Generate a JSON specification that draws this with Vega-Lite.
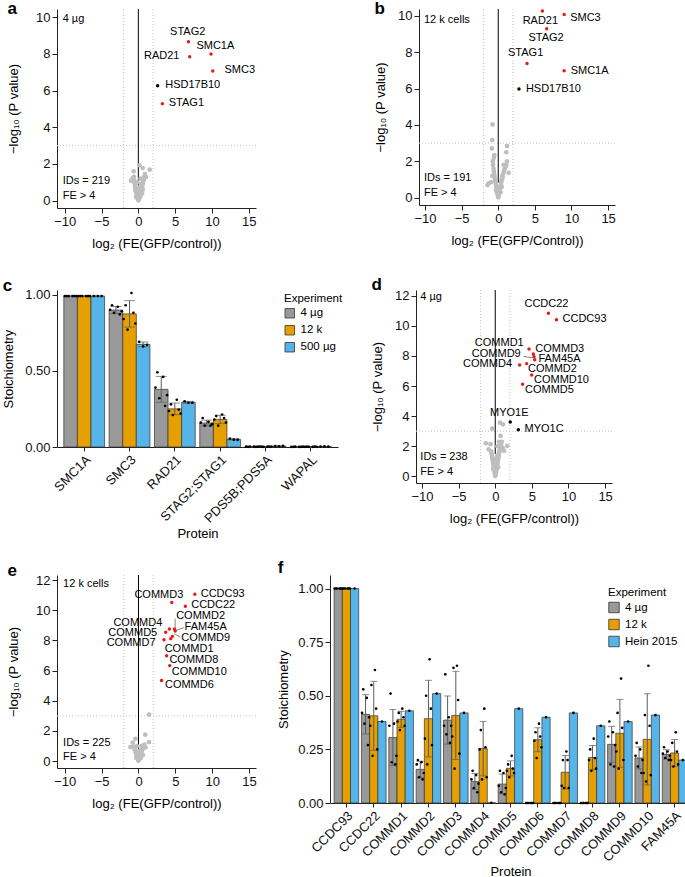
{
  "$schema": "https://vega.github.io/schema/vega-lite/v6.json",
  "background": "white",
  "padding": {"left": 2, "top": -1, "right": 0, "bottom": 0},
  "config": {
    "font": "Liberation Sans",
    "view": {"stroke": null},
    "axis": {"grid": false, "labelFontSize": 13, "titleFontSize": 13, "titleFontWeight": "normal", "labelColor": "#111111", "titleColor": "#000000", "domainColor": "#222222", "tickColor": "#222222", "tickSize": 5, "labelPadding": 2, "labelFlush": false, "labelOverlap": false},
    "title": {"fontSize": 17, "fontWeight": "bold", "anchor": "start", "frame": "bounds", "offset": 0, "color": "#000000"},
    "legend": {"titleFontSize": 11.5, "labelFontSize": 11.5, "titleFontWeight": "normal"}
  },
  "datasets": {
    "aGrey": [{"x":0,"y":0.02},{"x":0.05,"y":0.05},{"x":-0.05,"y":0.08},{"x":0.1,"y":0.12},{"x":-0.1,"y":0.15},{"x":0.15,"y":0.2},{"x":-0.15,"y":0.22},{"x":0.2,"y":0.28},{"x":-0.2,"y":0.3},{"x":0.25,"y":0.35},{"x":-0.25,"y":0.38},{"x":0.3,"y":0.45},{"x":-0.3,"y":0.48},{"x":0.35,"y":0.55},{"x":-0.35,"y":0.52},{"x":0.4,"y":0.62},{"x":-0.4,"y":0.6},{"x":0.45,"y":0.7},{"x":-0.42,"y":0.72},{"x":0.5,"y":0.78},{"x":-0.45,"y":0.82},{"x":0.55,"y":0.88},{"x":0.6,"y":0.95},{"x":-0.5,"y":0.95},{"x":0.65,"y":1.05},{"x":0.7,"y":1.12},{"x":-0.55,"y":1.1},{"x":0.75,"y":1.2},{"x":0.8,"y":1.3},{"x":0.5,"y":0.4},{"x":0.3,"y":0.25},{"x":-0.3,"y":0.2},{"x":0.1,"y":0.4},{"x":0.2,"y":0.6},{"x":0.4,"y":0.9},{"x":0.6,"y":0.6},{"x":-0.2,"y":0.55},{"x":0,"y":0.3},{"x":0.1,"y":0.7},{"x":-0.6,"y":1.3},{"x":-0.63,"y":1.6},{"x":-1.0,"y":1.09},{"x":0.14,"y":1.93},{"x":0.6,"y":1.78},{"x":1.04,"y":1.29},{"x":1.54,"y":1.69},{"x":0.9,"y":1.45},{"x":-0.1,"y":1.0},{"x":0.3,"y":1.2},{"x":-0.75,"y":1.25}],
    "aHits": [
      {"n":"STAG2","g":"t","x":6.8,"y":8.67},{"n":"SMC1A","g":"t","x":9.86,"y":8.0},{"n":"RAD21","g":"t","x":6.97,"y":7.85},
      {"n":"SMC3","g":"t","x":10.1,"y":7.07},{"n":"HSD17B10","g":"o","x":2.62,"y":6.27},{"n":"STAG1","g":"t","x":3.26,"y":5.29}
    ],
    "aLab": [
      {"n":"STAG2","x":6.7,"y":9.18},{"n":"SMC1A","x":10.45,"y":8.42},{"n":"RAD21","x":3.17,"y":7.87},
      {"n":"SMC3","x":13.76,"y":7.11},{"n":"HSD17B10","x":7.38,"y":6.31},{"n":"STAG1","x":6.52,"y":5.33}
    ],
    "aNote": [{"x":-10.27,"y":9.93,"t":"4 µg"},{"x":-10.27,"y":1.05,"t":"IDs = 219"},{"x":-10.27,"y":0.27,"t":"FE > 4"}],
    "bGrey": [{"x":0,"y":0.02},{"x":0.05,"y":0.1},{"x":-0.05,"y":0.12},{"x":0.1,"y":0.2},{"x":-0.1,"y":0.22},{"x":0.15,"y":0.3},{"x":-0.15,"y":0.28},{"x":0.2,"y":0.4},{"x":-0.2,"y":0.38},{"x":0.25,"y":0.5},{"x":-0.25,"y":0.55},{"x":0.3,"y":0.62},{"x":-0.3,"y":0.65},{"x":0.35,"y":0.7},{"x":-0.35,"y":0.75},{"x":0.4,"y":0.85},{"x":-0.4,"y":0.9},{"x":0.45,"y":0.95},{"x":-0.45,"y":1.0},{"x":0.5,"y":1.05},{"x":-0.5,"y":1.15},{"x":0.55,"y":1.2},{"x":-0.55,"y":1.3},{"x":0.6,"y":1.1},{"x":-0.6,"y":1.45},{"x":0.7,"y":1.35},{"x":-0.65,"y":1.6},{"x":0.8,"y":1.5},{"x":-0.7,"y":1.8},{"x":0.9,"y":1.6},{"x":-0.75,"y":2.0},{"x":1.0,"y":1.7},{"x":1.1,"y":1.8},{"x":1.19,"y":2.0},{"x":1.42,"y":1.37},{"x":0.73,"y":1.8},{"x":-0.55,"y":2.34},{"x":-0.6,"y":2.2},{"x":-0.87,"y":2.71},{"x":-0.82,"y":3.17},{"x":-0.78,"y":4.03},{"x":1.19,"y":2.84},{"x":1.1,"y":2.5},{"x":-1.32,"y":0.79},{"x":-1.46,"y":0.7},{"x":-1.0,"y":0.85},{"x":0.3,"y":0.3},{"x":-0.3,"y":0.4},{"x":0.1,"y":0.5},{"x":-0.8,"y":1.2},{"x":0.5,"y":0.6}],
    "bHits": [
      {"n":"RAD21","g":"t","x":6.03,"y":10.26},{"n":"SMC3","g":"t","x":9.0,"y":10.07},{"n":"STAG2","g":"t","x":6.62,"y":9.29},
      {"n":"STAG1","g":"t","x":3.93,"y":7.38},{"n":"SMC1A","g":"t","x":9.0,"y":6.98},{"n":"HSD17B10","g":"o","x":2.83,"y":5.97}
    ],
    "bLab": [
      {"n":"RAD21","x":5.75,"y":9.73},{"n":"SMC3","x":11.9,"y":9.89},{"n":"STAG2","x":6.53,"y":8.75},
      {"n":"STAG1","x":3.74,"y":7.93},{"n":"SMC1A","x":12.47,"y":6.98},{"n":"HSD17B10","x":7.53,"y":5.99}
    ],
    "bNote": [{"x":-10.14,"y":9.76,"t":"12 k cells"},{"x":-10.14,"y":1.06,"t":"IDs = 191"},{"x":-10.14,"y":0.27,"t":"FE > 4"}],
    "dGrey": [{"x":0,"y":0.02},{"x":0.05,"y":0.1},{"x":-0.05,"y":0.15},{"x":0.1,"y":0.25},{"x":-0.1,"y":0.3},{"x":0.15,"y":0.4},{"x":-0.15,"y":0.45},{"x":0.2,"y":0.55},{"x":-0.2,"y":0.6},{"x":0.25,"y":0.7},{"x":-0.25,"y":0.75},{"x":0.3,"y":0.85},{"x":-0.3,"y":0.9},{"x":0.35,"y":1.0},{"x":-0.35,"y":1.05},{"x":0.4,"y":1.15},{"x":-0.4,"y":1.2},{"x":0.45,"y":1.3},{"x":-0.45,"y":1.35},{"x":0.5,"y":1.45},{"x":-0.5,"y":1.5},{"x":0.55,"y":1.6},{"x":0.6,"y":1.7},{"x":-0.55,"y":1.65},{"x":0.65,"y":1.8},{"x":0.7,"y":1.9},{"x":0.75,"y":2.0},{"x":0.8,"y":2.1},{"x":0.2,"y":0.9},{"x":-0.2,"y":1.0},{"x":0.1,"y":1.2},{"x":0.3,"y":1.4},{"x":-0.1,"y":0.8},{"x":0.4,"y":0.6},{"x":-0.3,"y":0.5},{"x":1.0,"y":1.9},{"x":1.2,"y":1.7},{"x":1.64,"y":2.03},{"x":-0.64,"y":2.14},{"x":-1.28,"y":2.2},{"x":0.73,"y":2.69},{"x":-0.41,"y":3.17},{"x":1.05,"y":3.46},{"x":0.64,"y":3.57},{"x":0.9,"y":2.3},{"x":-0.9,"y":1.8},{"x":0.5,"y":2.3},{"x":0.3,"y":2.0}],
    "dHits": [
      {"n":"CCDC22","g":"t","x":7.26,"y":10.84},{"n":"CCDC93","g":"t","x":8.36,"y":10.4},{"n":"COMMD1","g":"t","x":4.61,"y":8.46},
      {"n":"COMMD3","g":"t","x":5.2,"y":8.13},{"n":"COMMD9","g":"t","x":5.3,"y":7.95},{"n":"FAM45A","g":"t","x":5.39,"y":7.75},
      {"n":"COMMD4","g":"t","x":3.33,"y":7.4},{"n":"COMMD2","g":"t","x":4.29,"y":7.49},{"n":"COMMD10","g":"t","x":4.98,"y":6.74},
      {"n":"COMMD5","g":"t","x":3.74,"y":6.12},{"n":"MYO1E","g":"o","x":2.05,"y":3.61},{"n":"MYO1C","g":"o","x":3.15,"y":3.1}
    ],
    "dLab": [
      {"n":"CCDC22","x":6.99,"y":11.45},{"n":"CCDC93","x":12.19,"y":10.44},{"n":"COMMD1","x":0.55,"y":8.85},
      {"n":"COMMD3","x":8.81,"y":8.48},{"n":"COMMD9","x":0.14,"y":8.13},{"n":"FAM45A","x":8.77,"y":7.8},
      {"n":"COMMD4","x":-1.05,"y":7.49},{"n":"COMMD2","x":7.81,"y":7.14},{"n":"COMMD10","x":9.04,"y":6.43},
      {"n":"COMMD5","x":7.4,"y":5.77},{"n":"MYO1E","x":1.92,"y":4.23},{"n":"MYO1C","x":6.67,"y":3.13}
    ],
    "dLead": [{"x":3.84,"y":7.97,"x2":5.07,"y2":7.88}],
    "dNote": [{"x":-10.23,"y":11.89,"t":"4 µg"},{"x":-10.23,"y":1.26,"t":"IDs = 238"},{"x":-10.23,"y":0.31,"t":"FE > 4"}],
    "eGrey": [{"x":0,"y":0.02},{"x":0.05,"y":0.08},{"x":-0.05,"y":0.1},{"x":0.1,"y":0.15},{"x":-0.1,"y":0.18},{"x":0.15,"y":0.22},{"x":-0.15,"y":0.25},{"x":0.2,"y":0.3},{"x":-0.2,"y":0.32},{"x":0.25,"y":0.38},{"x":-0.25,"y":0.4},{"x":0.3,"y":0.45},{"x":-0.3,"y":0.48},{"x":0.35,"y":0.52},{"x":-0.35,"y":0.55},{"x":0.4,"y":0.6},{"x":-0.4,"y":0.62},{"x":0.45,"y":0.68},{"x":-0.45,"y":0.7},{"x":0.5,"y":0.75},{"x":-0.5,"y":0.78},{"x":0.55,"y":0.82},{"x":0.6,"y":0.88},{"x":-0.55,"y":0.85},{"x":0.65,"y":0.95},{"x":0.7,"y":1.0},{"x":0.1,"y":0.5},{"x":-0.1,"y":0.6},{"x":0.2,"y":0.7},{"x":0.3,"y":0.2},{"x":-0.3,"y":0.2},{"x":0.8,"y":1.1},{"x":-0.6,"y":0.95},{"x":-0.78,"y":1.22},{"x":-0.41,"y":1.48},{"x":-1.1,"y":0.93},{"x":0.92,"y":1.75},{"x":1.43,"y":1.26},{"x":1.43,"y":3.08},{"x":0.4,"y":1.0},{"x":-0.2,"y":1.0},{"x":0.6,"y":0.4},{"x":0.95,"y":0.9}],
    "eHits": [
      {"n":"CCDC93","g":"t","x":7.65,"y":11.06},{"n":"COMMD3","g":"t","x":4.52,"y":10.51},{"n":"CCDC22","g":"t","x":6.36,"y":10.27},
      {"n":"COMMD2","g":"t","x":4.88,"y":8.76},{"n":"FAM45A","g":"t","x":4.98,"y":8.63},{"n":"COMMD9","g":"t","x":4.61,"y":8.27},
      {"n":"COMMD4","g":"t","x":4.19,"y":8.76},{"n":"COMMD5","g":"t","x":3.69,"y":8.54},{"n":"COMMD7","g":"t","x":3.46,"y":8.05},
      {"n":"COMMD1","g":"t","x":4.38,"y":8.12},{"n":"COMMD8","g":"t","x":3.82,"y":6.99},{"n":"COMMD10","g":"t","x":4.24,"y":6.33},
      {"n":"COMMD6","g":"t","x":3.13,"y":5.35}
    ],
    "eLab": [
      {"n":"CCDC93","x":11.43,"y":11.1},{"n":"COMMD3","x":2.76,"y":11.0},{"n":"CCDC22","x":10.14,"y":10.33},
      {"n":"COMMD2","x":8.43,"y":9.62},{"n":"FAM45A","x":9.12,"y":8.89},{"n":"COMMD9","x":9.12,"y":8.16},
      {"n":"COMMD4","x":-0.09,"y":9.18},{"n":"COMMD5","x":-0.78,"y":8.52},{"n":"COMMD7","x":-1.0,"y":7.85},
      {"n":"COMMD1","x":6.87,"y":7.46},{"n":"COMMD8","x":7.51,"y":6.68},{"n":"COMMD10","x":8.25,"y":5.91},
      {"n":"COMMD6","x":6.91,"y":5.02}
    ],
    "eLead": [{"x":4.98,"y":9.45,"x2":4.98,"y2":8.85},{"x":6.13,"y":8.85,"x2":5.12,"y2":8.67},{"x":5.67,"y":8.22,"x2":4.84,"y2":8.45}],
    "eNote": [{"x":-10.23,"y":11.77,"t":"12 k cells"},{"x":-10.23,"y":1.22,"t":"IDs = 225"},{"x":-10.23,"y":0.27,"t":"FE > 4"}],
    "cData": [
      {"p":"SMC1A","e":"4 µg","r":"A1","v":0.99},{"p":"SMC1A","e":"4 µg","r":"A2","v":0.99},{"p":"SMC1A","e":"4 µg","r":"A3","v":0.99},{"p":"SMC1A","e":"4 µg","r":"A5","v":0.99},{"p":"SMC1A","e":"4 µg","r":"A6","v":0.99},{"p":"SMC1A","e":"4 µg","r":"A7","v":0.99},
      {"p":"SMC1A","e":"12 k","r":"B1","v":0.99},{"p":"SMC1A","e":"12 k","r":"B2","v":0.99},{"p":"SMC1A","e":"12 k","r":"B3","v":0.99},{"p":"SMC1A","e":"12 k","r":"B5","v":0.99},{"p":"SMC1A","e":"12 k","r":"B6","v":0.99},{"p":"SMC1A","e":"12 k","r":"B7","v":0.99},
      {"p":"SMC1A","e":"500 µg","r":"C2","v":0.99},{"p":"SMC1A","e":"500 µg","r":"C4","v":0.99},{"p":"SMC1A","e":"500 µg","r":"C6","v":0.99},
      {"p":"SMC3","e":"4 µg","r":"A1","v":0.90},{"p":"SMC3","e":"4 µg","r":"A2","v":0.93},{"p":"SMC3","e":"4 µg","r":"A3","v":0.88},{"p":"SMC3","e":"4 µg","r":"A5","v":0.92},{"p":"SMC3","e":"4 µg","r":"A6","v":0.87},{"p":"SMC3","e":"4 µg","r":"A7","v":0.89},
      {"p":"SMC3","e":"12 k","r":"B1","v":0.84},{"p":"SMC3","e":"12 k","r":"B2","v":0.93},{"p":"SMC3","e":"12 k","r":"B3","v":0.77},{"p":"SMC3","e":"12 k","r":"B5","v":1.01},{"p":"SMC3","e":"12 k","r":"B6","v":0.88},{"p":"SMC3","e":"12 k","r":"B7","v":0.81},
      {"p":"SMC3","e":"500 µg","r":"C2","v":0.69},{"p":"SMC3","e":"500 µg","r":"C4","v":0.66},{"p":"SMC3","e":"500 µg","r":"C6","v":0.67},
      {"p":"RAD21","e":"4 µg","r":"A1","v":0.39},{"p":"RAD21","e":"4 µg","r":"A2","v":0.49},{"p":"RAD21","e":"4 µg","r":"A3","v":0.32},{"p":"RAD21","e":"4 µg","r":"A5","v":0.46},{"p":"RAD21","e":"4 µg","r":"A6","v":0.27},{"p":"RAD21","e":"4 µg","r":"A7","v":0.34},
      {"p":"RAD21","e":"12 k","r":"B1","v":0.236},{"p":"RAD21","e":"12 k","r":"B2","v":0.28},{"p":"RAD21","e":"12 k","r":"B3","v":0.21},{"p":"RAD21","e":"12 k","r":"B5","v":0.31},{"p":"RAD21","e":"12 k","r":"B6","v":0.245},{"p":"RAD21","e":"12 k","r":"B7","v":0.22},
      {"p":"RAD21","e":"500 µg","r":"C2","v":0.30},{"p":"RAD21","e":"500 µg","r":"C4","v":0.29},{"p":"RAD21","e":"500 µg","r":"C6","v":0.29},
      {"p":"STAG2;STAG1","e":"4 µg","r":"A1","v":0.16},{"p":"STAG2;STAG1","e":"4 µg","r":"A2","v":0.19},{"p":"STAG2;STAG1","e":"4 µg","r":"A3","v":0.14},{"p":"STAG2;STAG1","e":"4 µg","r":"A5","v":0.165},{"p":"STAG2;STAG1","e":"4 µg","r":"A6","v":0.14},{"p":"STAG2;STAG1","e":"4 µg","r":"A7","v":0.15},
      {"p":"STAG2;STAG1","e":"12 k","r":"B1","v":0.18},{"p":"STAG2;STAG1","e":"12 k","r":"B2","v":0.203},{"p":"STAG2;STAG1","e":"12 k","r":"B3","v":0.14},{"p":"STAG2;STAG1","e":"12 k","r":"B5","v":0.213},{"p":"STAG2;STAG1","e":"12 k","r":"B6","v":0.19},{"p":"STAG2;STAG1","e":"12 k","r":"B7","v":0.16},
      {"p":"STAG2;STAG1","e":"500 µg","r":"C2","v":0.055},{"p":"STAG2;STAG1","e":"500 µg","r":"C4","v":0.048},{"p":"STAG2;STAG1","e":"500 µg","r":"C6","v":0.047},
      {"p":"PDS5B;PDS5A","e":"4 µg","r":"A1","v":0.002},{"p":"PDS5B;PDS5A","e":"4 µg","r":"A2","v":0.001},{"p":"PDS5B;PDS5A","e":"4 µg","r":"A3","v":0.003},{"p":"PDS5B;PDS5A","e":"4 µg","r":"A5","v":0.002},{"p":"PDS5B;PDS5A","e":"4 µg","r":"A6","v":0.001},{"p":"PDS5B;PDS5A","e":"4 µg","r":"A7","v":0.002},
      {"p":"PDS5B;PDS5A","e":"12 k","r":"B1","v":0.003},{"p":"PDS5B;PDS5A","e":"12 k","r":"B2","v":0.002},{"p":"PDS5B;PDS5A","e":"12 k","r":"B3","v":0.001},{"p":"PDS5B;PDS5A","e":"12 k","r":"B5","v":0.002},{"p":"PDS5B;PDS5A","e":"12 k","r":"B6","v":0.003},{"p":"PDS5B;PDS5A","e":"12 k","r":"B7","v":0.002},
      {"p":"PDS5B;PDS5A","e":"500 µg","r":"C2","v":0.006},{"p":"PDS5B;PDS5A","e":"500 µg","r":"C4","v":0.005},{"p":"PDS5B;PDS5A","e":"500 µg","r":"C6","v":0.007},
      {"p":"WAPAL","e":"4 µg","r":"A1","v":0.001},{"p":"WAPAL","e":"4 µg","r":"A2","v":0.001},{"p":"WAPAL","e":"4 µg","r":"A3","v":0.002},{"p":"WAPAL","e":"4 µg","r":"A5","v":0.001},{"p":"WAPAL","e":"4 µg","r":"A6","v":0.001},{"p":"WAPAL","e":"4 µg","r":"A7","v":0.002},
      {"p":"WAPAL","e":"12 k","r":"B1","v":0.001},{"p":"WAPAL","e":"12 k","r":"B2","v":0.002},{"p":"WAPAL","e":"12 k","r":"B3","v":0.001},{"p":"WAPAL","e":"12 k","r":"B5","v":0.001},{"p":"WAPAL","e":"12 k","r":"B6","v":0.002},{"p":"WAPAL","e":"12 k","r":"B7","v":0.001},
      {"p":"WAPAL","e":"500 µg","r":"C2","v":0.003},{"p":"WAPAL","e":"500 µg","r":"C4","v":0.004},{"p":"WAPAL","e":"500 µg","r":"C6","v":0.003}
    ],
    "fData": [
      {"p":"CCDC93","e":"4 µg","r":"A1","v":1.0},{"p":"CCDC93","e":"4 µg","r":"A2","v":1.0},{"p":"CCDC93","e":"4 µg","r":"A3","v":1.0},{"p":"CCDC93","e":"4 µg","r":"A5","v":1.0},{"p":"CCDC93","e":"4 µg","r":"A6","v":1.0},{"p":"CCDC93","e":"4 µg","r":"A7","v":1.0},
      {"p":"CCDC93","e":"12 k","r":"B1","v":1.0},{"p":"CCDC93","e":"12 k","r":"B2","v":1.0},{"p":"CCDC93","e":"12 k","r":"B3","v":1.0},{"p":"CCDC93","e":"12 k","r":"B5","v":1.0},{"p":"CCDC93","e":"12 k","r":"B6","v":1.0},{"p":"CCDC93","e":"12 k","r":"B7","v":1.0},
      {"p":"CCDC93","e":"Hein 2015","r":"C4","v":1.0},
      {"p":"CCDC22","e":"4 µg","r":"A1","v":0.42},{"p":"CCDC22","e":"4 µg","r":"A2","v":0.53},{"p":"CCDC22","e":"4 µg","r":"A3","v":0.37},{"p":"CCDC22","e":"4 µg","r":"A5","v":0.49},{"p":"CCDC22","e":"4 µg","r":"A6","v":0.27},{"p":"CCDC22","e":"4 µg","r":"A7","v":0.40},
      {"p":"CCDC22","e":"12 k","r":"B1","v":0.36},{"p":"CCDC22","e":"12 k","r":"B2","v":0.55},{"p":"CCDC22","e":"12 k","r":"B3","v":0.22},{"p":"CCDC22","e":"12 k","r":"B5","v":0.62},{"p":"CCDC22","e":"12 k","r":"B6","v":0.44},{"p":"CCDC22","e":"12 k","r":"B7","v":0.25},
      {"p":"CCDC22","e":"Hein 2015","r":"C4","v":0.38},
      {"p":"COMMD1","e":"4 µg","r":"A1","v":0.36},{"p":"COMMD1","e":"4 µg","r":"A2","v":0.51},{"p":"COMMD1","e":"4 µg","r":"A3","v":0.19},{"p":"COMMD1","e":"4 µg","r":"A5","v":0.37},{"p":"COMMD1","e":"4 µg","r":"A6","v":0.18},{"p":"COMMD1","e":"4 µg","r":"A7","v":0.22},
      {"p":"COMMD1","e":"12 k","r":"B1","v":0.38},{"p":"COMMD1","e":"12 k","r":"B2","v":0.42},{"p":"COMMD1","e":"12 k","r":"B3","v":0.34},{"p":"COMMD1","e":"12 k","r":"B5","v":0.44},{"p":"COMMD1","e":"12 k","r":"B6","v":0.40},{"p":"COMMD1","e":"12 k","r":"B7","v":0.36},
      {"p":"COMMD1","e":"Hein 2015","r":"C4","v":0.43},
      {"p":"COMMD2","e":"4 µg","r":"A1","v":0.18},{"p":"COMMD2","e":"4 µg","r":"A2","v":0.20},{"p":"COMMD2","e":"4 µg","r":"A3","v":0.12},{"p":"COMMD2","e":"4 µg","r":"A5","v":0.19},{"p":"COMMD2","e":"4 µg","r":"A6","v":0.11},{"p":"COMMD2","e":"4 µg","r":"A7","v":0.14},
      {"p":"COMMD2","e":"12 k","r":"B1","v":0.30},{"p":"COMMD2","e":"12 k","r":"B2","v":0.50},{"p":"COMMD2","e":"12 k","r":"B3","v":0.18},{"p":"COMMD2","e":"12 k","r":"B5","v":0.67},{"p":"COMMD2","e":"12 k","r":"B6","v":0.44},{"p":"COMMD2","e":"12 k","r":"B7","v":0.27},
      {"p":"COMMD2","e":"Hein 2015","r":"C4","v":0.51},
      {"p":"COMMD3","e":"4 µg","r":"A1","v":0.36},{"p":"COMMD3","e":"4 µg","r":"A2","v":0.60},{"p":"COMMD3","e":"4 µg","r":"A3","v":0.32},{"p":"COMMD3","e":"4 µg","r":"A5","v":0.40},{"p":"COMMD3","e":"4 µg","r":"A6","v":0.28},{"p":"COMMD3","e":"4 µg","r":"A7","v":0.36},
      {"p":"COMMD3","e":"12 k","r":"B1","v":0.31},{"p":"COMMD3","e":"12 k","r":"B2","v":0.63},{"p":"COMMD3","e":"12 k","r":"B3","v":0.16},{"p":"COMMD3","e":"12 k","r":"B5","v":0.64},{"p":"COMMD3","e":"12 k","r":"B6","v":0.48},{"p":"COMMD3","e":"12 k","r":"B7","v":0.23},
      {"p":"COMMD3","e":"Hein 2015","r":"C4","v":0.42},
      {"p":"COMMD4","e":"4 µg","r":"A1","v":0.11},{"p":"COMMD4","e":"4 µg","r":"A2","v":0.15},{"p":"COMMD4","e":"4 µg","r":"A3","v":0.07},{"p":"COMMD4","e":"4 µg","r":"A5","v":0.13},{"p":"COMMD4","e":"4 µg","r":"A6","v":0.05},{"p":"COMMD4","e":"4 µg","r":"A7","v":0.09},
      {"p":"COMMD4","e":"12 k","r":"B1","v":0.25},{"p":"COMMD4","e":"12 k","r":"B2","v":0.34},{"p":"COMMD4","e":"12 k","r":"B3","v":0.11},{"p":"COMMD4","e":"12 k","r":"B5","v":0.44},{"p":"COMMD4","e":"12 k","r":"B6","v":0.26},{"p":"COMMD4","e":"12 k","r":"B7","v":0.12},
      {"p":"COMMD4","e":"Hein 2015","r":"C4","v":0.001},
      {"p":"COMMD5","e":"4 µg","r":"A1","v":0.08},{"p":"COMMD5","e":"4 µg","r":"A2","v":0.15},{"p":"COMMD5","e":"4 µg","r":"A3","v":0.05},{"p":"COMMD5","e":"4 µg","r":"A5","v":0.14},{"p":"COMMD5","e":"4 µg","r":"A6","v":0.04},{"p":"COMMD5","e":"4 µg","r":"A7","v":0.07},
      {"p":"COMMD5","e":"12 k","r":"B1","v":0.15},{"p":"COMMD5","e":"12 k","r":"B2","v":0.18},{"p":"COMMD5","e":"12 k","r":"B3","v":0.12},{"p":"COMMD5","e":"12 k","r":"B5","v":0.22},{"p":"COMMD5","e":"12 k","r":"B6","v":0.16},{"p":"COMMD5","e":"12 k","r":"B7","v":0.14},
      {"p":"COMMD5","e":"Hein 2015","r":"C4","v":0.44},
      {"p":"COMMD6","e":"4 µg","r":"A1","v":0},{"p":"COMMD6","e":"4 µg","r":"A2","v":0},{"p":"COMMD6","e":"4 µg","r":"A3","v":0},{"p":"COMMD6","e":"4 µg","r":"A5","v":0},{"p":"COMMD6","e":"4 µg","r":"A6","v":0},{"p":"COMMD6","e":"4 µg","r":"A7","v":0},
      {"p":"COMMD6","e":"12 k","r":"B1","v":0.29},{"p":"COMMD6","e":"12 k","r":"B2","v":0.33},{"p":"COMMD6","e":"12 k","r":"B3","v":0.21},{"p":"COMMD6","e":"12 k","r":"B5","v":0.37},{"p":"COMMD6","e":"12 k","r":"B6","v":0.31},{"p":"COMMD6","e":"12 k","r":"B7","v":0.26},
      {"p":"COMMD6","e":"Hein 2015","r":"C4","v":0.40},
      {"p":"COMMD7","e":"4 µg","r":"A1","v":0},{"p":"COMMD7","e":"4 µg","r":"A2","v":0},{"p":"COMMD7","e":"4 µg","r":"A3","v":0},{"p":"COMMD7","e":"4 µg","r":"A5","v":0},{"p":"COMMD7","e":"4 µg","r":"A6","v":0},{"p":"COMMD7","e":"4 µg","r":"A7","v":0},
      {"p":"COMMD7","e":"12 k","r":"B1","v":0.08},{"p":"COMMD7","e":"12 k","r":"B2","v":0.20},{"p":"COMMD7","e":"12 k","r":"B3","v":0.07},{"p":"COMMD7","e":"12 k","r":"B5","v":0.24},{"p":"COMMD7","e":"12 k","r":"B6","v":0.20},{"p":"COMMD7","e":"12 k","r":"B7","v":0.07},
      {"p":"COMMD7","e":"Hein 2015","r":"C4","v":0.42},
      {"p":"COMMD8","e":"4 µg","r":"A1","v":0},{"p":"COMMD8","e":"4 µg","r":"A2","v":0},{"p":"COMMD8","e":"4 µg","r":"A3","v":0},{"p":"COMMD8","e":"4 µg","r":"A5","v":0},{"p":"COMMD8","e":"4 µg","r":"A6","v":0},{"p":"COMMD8","e":"4 µg","r":"A7","v":0},
      {"p":"COMMD8","e":"12 k","r":"B1","v":0.20},{"p":"COMMD8","e":"12 k","r":"B2","v":0.25},{"p":"COMMD8","e":"12 k","r":"B3","v":0.15},{"p":"COMMD8","e":"12 k","r":"B5","v":0.30},{"p":"COMMD8","e":"12 k","r":"B6","v":0.21},{"p":"COMMD8","e":"12 k","r":"B7","v":0.16},
      {"p":"COMMD8","e":"Hein 2015","r":"C4","v":0.36},
      {"p":"COMMD9","e":"4 µg","r":"A1","v":0.31},{"p":"COMMD9","e":"4 µg","r":"A2","v":0.38},{"p":"COMMD9","e":"4 µg","r":"A3","v":0.18},{"p":"COMMD9","e":"4 µg","r":"A5","v":0.33},{"p":"COMMD9","e":"4 µg","r":"A6","v":0.17},{"p":"COMMD9","e":"4 µg","r":"A7","v":0.27},
      {"p":"COMMD9","e":"12 k","r":"B1","v":0.24},{"p":"COMMD9","e":"12 k","r":"B2","v":0.42},{"p":"COMMD9","e":"12 k","r":"B3","v":0.16},{"p":"COMMD9","e":"12 k","r":"B5","v":0.58},{"p":"COMMD9","e":"12 k","r":"B6","v":0.35},{"p":"COMMD9","e":"12 k","r":"B7","v":0.20},
      {"p":"COMMD9","e":"Hein 2015","r":"C4","v":0.38},
      {"p":"COMMD10","e":"4 µg","r":"A1","v":0.22},{"p":"COMMD10","e":"4 µg","r":"A2","v":0.28},{"p":"COMMD10","e":"4 µg","r":"A3","v":0.17},{"p":"COMMD10","e":"4 µg","r":"A5","v":0.25},{"p":"COMMD10","e":"4 µg","r":"A6","v":0.14},{"p":"COMMD10","e":"4 µg","r":"A7","v":0.20},
      {"p":"COMMD10","e":"12 k","r":"B1","v":0.14},{"p":"COMMD10","e":"12 k","r":"B2","v":0.41},{"p":"COMMD10","e":"12 k","r":"B3","v":0.10},{"p":"COMMD10","e":"12 k","r":"B5","v":0.64},{"p":"COMMD10","e":"12 k","r":"B6","v":0.36},{"p":"COMMD10","e":"12 k","r":"B7","v":0.13},
      {"p":"COMMD10","e":"Hein 2015","r":"C4","v":0.41},
      {"p":"FAM45A","e":"4 µg","r":"A1","v":0.23},{"p":"FAM45A","e":"4 µg","r":"A2","v":0.26},{"p":"FAM45A","e":"4 µg","r":"A3","v":0.21},{"p":"FAM45A","e":"4 µg","r":"A5","v":0.24},{"p":"FAM45A","e":"4 µg","r":"A6","v":0.20},{"p":"FAM45A","e":"4 µg","r":"A7","v":0.22},
      {"p":"FAM45A","e":"12 k","r":"B1","v":0.20},{"p":"FAM45A","e":"12 k","r":"B2","v":0.28},{"p":"FAM45A","e":"12 k","r":"B3","v":0.17},{"p":"FAM45A","e":"12 k","r":"B5","v":0.33},{"p":"FAM45A","e":"12 k","r":"B6","v":0.24},{"p":"FAM45A","e":"12 k","r":"B7","v":0.18},
      {"p":"FAM45A","e":"Hein 2015","r":"C4","v":0.20}
    ]
  },
  "resolve": {"scale": {"color": "independent", "xOffset": "independent", "x": "independent", "y": "independent"}, "legend": {"color": "independent"}},
  "spacing": 25,
  "vconcat": [
    {
      "spacing": 117,
      "resolve": {"scale": {"color": "independent", "xOffset": "independent", "x": "independent", "y": "independent"}, "legend": {"color": "independent"}},
      "hconcat": [
        {
          "title": {"text": "a", "dy": 13},
          "width": 199, "height": 199,
          "encoding": {
            "x": {"field": "x", "type": "quantitative", "title": "log₂ (FE(GFP/control))", "scale": {"domain": [-11.04, 15.97], "nice": false, "zero": false}, "axis": {"values": [-10, -5, 0, 5, 10, 15], "labelOverlap": false, "titlePadding": 9}},
            "y": {"field": "y", "type": "quantitative", "title": "−log₁₀ (P value)", "scale": {"domain": [-0.4, 10.45], "nice": false, "zero": false}, "axis": {"values": [0, 2, 4, 6, 8, 10], "labelOverlap": false, "titlePadding": 15}}
          },
          "layer": [
            {"data": {"values": [{"x": -2, "y": -0.4, "y2": 10.45}, {"x": 2, "y": -0.4, "y2": 10.45}]}, "mark": {"type": "rule", "color": "#c4c4c4", "strokeDash": [1, 2], "strokeWidth": 1}, "encoding": {"y2": {"field": "y2"}}},
            {"data": {"values": [{"x": -11.04, "x2": 15.97, "y": 3}]}, "mark": {"type": "rule", "color": "#c4c4c4", "strokeDash": [1, 2], "strokeWidth": 1}, "encoding": {"x2": {"field": "x2"}}},
            {"data": {"values": [{"x": 0, "y": 0.82, "y2": 10.45}]}, "mark": {"type": "rule", "color": "#000000", "strokeWidth": 1}, "encoding": {"y2": {"field": "y2"}}},
            {"data": {"name": "aGrey"}, "mark": {"type": "circle", "color": "#bebebe", "size": 22, "opacity": 1}},
            {"data": {"name": "aHits"}, "mark": {"type": "circle", "size": 12, "opacity": 1},
             "encoding": {"color": {"field": "g", "type": "nominal", "scale": {"domain": ["t", "o"], "range": ["#e41a1c", "#000000"]}, "legend": null}}},
            {"data": {"name": "aLab"}, "mark": {"type": "text", "fontSize": 11, "color": "#000000"}, "encoding": {"text": {"field": "n"}}},
            {"data": {"name": "aNote"}, "mark": {"type": "text", "fontSize": 11, "align": "left", "color": "#000000"}, "encoding": {"text": {"field": "t"}}}
          ]
        },
        {
          "title": {"text": "b", "dy": 13},
          "width": 196, "height": 196,
          "encoding": {
            "x": {"field": "x", "type": "quantitative", "title": "log₂ (FE(GFP/Control))", "scale": {"domain": [-10.82, 15.94], "nice": false, "zero": false}, "axis": {"values": [-10, -5, 0, 5, 10, 15], "labelOverlap": false, "titlePadding": 9}},
            "y": {"field": "y", "type": "quantitative", "title": "−log₁₀ (P value)", "scale": {"domain": [-0.4, 10.37], "nice": false, "zero": false}, "axis": {"values": [0, 2, 4, 6, 8, 10], "labelOverlap": false, "titlePadding": 10}}
          },
          "layer": [
            {"data": {"values": [{"x": -2, "y": -0.4, "y2": 10.37}, {"x": 2, "y": -0.4, "y2": 10.37}]}, "mark": {"type": "rule", "color": "#c4c4c4", "strokeDash": [1, 2], "strokeWidth": 1}, "encoding": {"y2": {"field": "y2"}}},
            {"data": {"values": [{"x": -10.82, "x2": 15.94, "y": 3}]}, "mark": {"type": "rule", "color": "#c4c4c4", "strokeDash": [1, 2], "strokeWidth": 1}, "encoding": {"x2": {"field": "x2"}}},
            {"data": {"values": [{"x": 0, "y": 0.82, "y2": 10.37}]}, "mark": {"type": "rule", "color": "#000000", "strokeWidth": 1}, "encoding": {"y2": {"field": "y2"}}},
            {"data": {"name": "bGrey"}, "mark": {"type": "circle", "color": "#bebebe", "size": 22, "opacity": 1}},
            {"data": {"name": "bHits"}, "mark": {"type": "circle", "size": 12, "opacity": 1},
             "encoding": {"color": {"field": "g", "type": "nominal", "scale": {"domain": ["t", "o"], "range": ["#e41a1c", "#000000"]}, "legend": null}}},
            {"data": {"name": "bLab"}, "mark": {"type": "text", "fontSize": 11, "color": "#000000"}, "encoding": {"text": {"field": "n"}}},
            {"data": {"name": "bNote"}, "mark": {"type": "text", "fontSize": 11, "align": "left", "color": "#000000"}, "encoding": {"text": {"field": "t"}}}
          ]
        }
      ]
    },
    {
      "spacing": 18,
      "resolve": {"scale": {"color": "independent", "xOffset": "independent", "x": "independent", "y": "independent"}, "legend": {"color": "independent"}},
      "vconcat": [
        {
          "spacing": 28,
          "resolve": {"scale": {"color": "independent", "xOffset": "independent", "x": "independent", "y": "independent"}, "legend": {"color": "independent"}},
          "hconcat": [
            {
              "title": {"text": "c", "dy": 10},
              "width": 281, "height": 157,
              "data": {"name": "cData"},
              "encoding": {
                "x": {"field": "p", "type": "nominal", "title": "Protein", "sort": ["SMC1A", "SMC3", "RAD21", "STAG2;STAG1", "PDS5B;PDS5A", "WAPAL"],
                  "scale": {"paddingInner": 0.1, "paddingOuter": 0.15}, "axis": {"labelAngle": -45, "titlePadding": 2, "tickSize": 4}}
              },
              "layer": [
                {"mark": {"type": "bar", "stroke": "#333333", "strokeWidth": 0.7},
                 "encoding": {
                   "xOffset": {"field": "e", "type": "nominal", "sort": ["4 µg", "12 k", "500 µg"], "scale": {"paddingInner": 0, "paddingOuter": 0}},
                   "y": {"aggregate": "mean", "field": "v", "type": "quantitative", "title": "Stoichiometry", "scale": {"domain": [0, 1.03], "nice": false},
                     "axis": {"values": [0, 0.25, 0.5, 0.75, 1], "format": ".2f", "titlePadding": 9}},
                   "color": {"field": "e", "type": "nominal", "sort": ["4 µg", "12 k", "500 µg"], "scale": {"domain": ["4 µg", "12 k", "500 µg"], "range": ["#999999", "#E69F00", "#56B4E9"]},
                     "legend": {"title": "Experiment", "orient": "none", "legendX": 227, "legendY": 3, "symbolType": "square", "symbolSize": 90, "symbolStrokeColor": "#333333", "symbolStrokeWidth": 0.8, "rowPadding": 3, "titlePadding": 3, "labelOffset": 5}}}},
                {"mark": {"type": "errorbar", "extent": "stdev", "color": "#5c5c5c", "ticks": {"size": 11}},
                 "encoding": {
                   "xOffset": {"field": "e", "type": "nominal", "sort": ["4 µg", "12 k", "500 µg"], "scale": {"paddingInner": 0, "paddingOuter": 0}},
                   "y": {"field": "v", "type": "quantitative", "title": "Stoichiometry"}}},
                {"mark": {"type": "circle", "color": "#000000", "size": 7, "opacity": 1},
                 "encoding": {
                   "xOffset": {"field": "r", "type": "nominal", "scale": {"type": "point", "padding": 0.5, "domain": ["A1","A2","A3","A4","A5","A6","A7","B1","B2","B3","B4","B5","B6","B7","C1","C2","C3","C4","C5","C6","C7"]}},
                   "y": {"field": "v", "type": "quantitative", "title": "Stoichiometry"}}}
              ],
              "resolve": {"scale": {"xOffset": "independent"}}
            },
            {
              "title": {"text": "d", "dy": 8},
              "width": 196, "height": 193,
              "encoding": {
                "x": {"field": "x", "type": "quantitative", "title": "log₂ (FE(GFP/control))", "scale": {"domain": [-10.82, 15.94], "nice": false, "zero": false}, "axis": {"values": [-10, -5, 0, 5, 10, 15], "labelOverlap": false, "titlePadding": 9}},
                "y": {"field": "y", "type": "quantitative", "title": "−log₁₀ (P value)", "scale": {"domain": [-0.44, 12.38], "nice": false, "zero": false}, "axis": {"values": [0, 2, 4, 6, 8, 10, 12], "labelOverlap": false, "titlePadding": 10}}
              },
              "layer": [
                {"data": {"values": [{"x": -2, "y": -0.44, "y2": 12.38}, {"x": 2, "y": -0.44, "y2": 12.38}]}, "mark": {"type": "rule", "color": "#c4c4c4", "strokeDash": [1, 2], "strokeWidth": 1}, "encoding": {"y2": {"field": "y2"}}},
                {"data": {"values": [{"x": -10.82, "x2": 15.94, "y": 3}]}, "mark": {"type": "rule", "color": "#c4c4c4", "strokeDash": [1, 2], "strokeWidth": 1}, "encoding": {"x2": {"field": "x2"}}},
                {"data": {"values": [{"x": 0, "y": 1.48, "y2": 12.38}]}, "mark": {"type": "rule", "color": "#000000", "strokeWidth": 1}, "encoding": {"y2": {"field": "y2"}}},
                {"data": {"name": "dGrey"}, "mark": {"type": "circle", "color": "#bebebe", "size": 22, "opacity": 1}},
                {"data": {"name": "dLead"}, "mark": {"type": "rule", "color": "#333333", "strokeWidth": 0.6}, "encoding": {"x2": {"field": "x2"}, "y2": {"field": "y2"}}},
                {"data": {"name": "dHits"}, "mark": {"type": "circle", "size": 12, "opacity": 1},
                 "encoding": {"color": {"field": "g", "type": "nominal", "scale": {"domain": ["t", "o"], "range": ["#e41a1c", "#000000"]}, "legend": null}}},
                {"data": {"name": "dLab"}, "mark": {"type": "text", "fontSize": 11, "color": "#000000"}, "encoding": {"text": {"field": "n"}}},
                {"data": {"name": "dNote"}, "mark": {"type": "text", "fontSize": 11, "align": "left", "color": "#000000"}, "encoding": {"text": {"field": "t"}}}
              ]
            }
          ]
        },
        {
          "spacing": 20,
          "resolve": {"scale": {"color": "independent", "xOffset": "independent", "x": "independent", "y": "independent"}, "legend": {"color": "independent"}},
          "hconcat": [
            {
              "title": {"text": "e", "dy": 10},
              "width": 199, "height": 193,
              "encoding": {
                "x": {"field": "x", "type": "quantitative", "title": "log₂ (FE(GFP/control))", "scale": {"domain": [-11.06, 15.95], "nice": false, "zero": false}, "axis": {"values": [-10, -5, 0, 5, 10, 15], "labelOverlap": false, "titlePadding": 9}},
                "y": {"field": "y", "type": "quantitative", "title": "−log₁₀ (P value)", "scale": {"domain": [-0.46, 12.34], "nice": false, "zero": false}, "axis": {"values": [0, 2, 4, 6, 8, 10, 12], "labelOverlap": false, "titlePadding": 15}}
              },
              "layer": [
                {"data": {"values": [{"x": -2, "y": -0.46, "y2": 12.34}, {"x": 2, "y": -0.46, "y2": 12.34}]}, "mark": {"type": "rule", "color": "#c4c4c4", "strokeDash": [1, 2], "strokeWidth": 1}, "encoding": {"y2": {"field": "y2"}}},
                {"data": {"values": [{"x": -11.06, "x2": 15.95, "y": 3}]}, "mark": {"type": "rule", "color": "#c4c4c4", "strokeDash": [1, 2], "strokeWidth": 1}, "encoding": {"x2": {"field": "x2"}}},
                {"data": {"values": [{"x": 0, "y": 0.71, "y2": 12.34}]}, "mark": {"type": "rule", "color": "#000000", "strokeWidth": 1}, "encoding": {"y2": {"field": "y2"}}},
                {"data": {"name": "eGrey"}, "mark": {"type": "circle", "color": "#bebebe", "size": 22, "opacity": 1}},
                {"data": {"name": "eLead"}, "mark": {"type": "rule", "color": "#333333", "strokeWidth": 0.6}, "encoding": {"x2": {"field": "x2"}, "y2": {"field": "y2"}}},
                {"data": {"name": "eHits"}, "mark": {"type": "circle", "size": 12, "opacity": 1},
                 "encoding": {"color": {"field": "g", "type": "nominal", "scale": {"domain": ["t", "o"], "range": ["#e41a1c", "#000000"]}, "legend": null}}},
                {"data": {"name": "eLab"}, "mark": {"type": "text", "fontSize": 11, "color": "#000000"}, "encoding": {"text": {"field": "n"}}},
                {"data": {"name": "eNote"}, "mark": {"type": "text", "fontSize": 11, "align": "left", "color": "#000000"}, "encoding": {"text": {"field": "t"}}}
              ]
            },
            {
              "title": {"text": "f", "dy": 6},
              "width": 361, "height": 228,
              "data": {"name": "fData"},
              "encoding": {
                "x": {"field": "p", "type": "nominal", "title": "Protein", "sort": ["CCDC93", "CCDC22", "COMMD1", "COMMD2", "COMMD3", "COMMD4", "COMMD5", "COMMD6", "COMMD7", "COMMD8", "COMMD9", "COMMD10", "FAM45A"],
                  "scale": {"paddingInner": 0.1, "paddingOuter": 0.15}, "axis": {"labelAngle": -45, "titlePadding": 1, "tickSize": 4}}
              },
              "layer": [
                {"mark": {"type": "bar", "stroke": "#333333", "strokeWidth": 0.7},
                 "encoding": {
                   "xOffset": {"field": "e", "type": "nominal", "sort": ["4 µg", "12 k", "Hein 2015"], "scale": {"paddingInner": 0, "paddingOuter": 0}},
                   "y": {"aggregate": "mean", "field": "v", "type": "quantitative", "title": "Stoichiometry", "scale": {"domain": [0, 1.063], "nice": false},
                     "axis": {"values": [0, 0.25, 0.5, 0.75, 1], "format": ".2f", "titlePadding": 7}},
                   "color": {"field": "e", "type": "nominal", "sort": ["4 µg", "12 k", "Hein 2015"], "scale": {"domain": ["4 µg", "12 k", "Hein 2015"], "range": ["#999999", "#E69F00", "#56B4E9"]},
                     "legend": {"title": "Experiment", "orient": "none", "legendX": 278, "legendY": 12, "symbolType": "square", "symbolSize": 110, "symbolStrokeColor": "#333333", "symbolStrokeWidth": 0.8, "rowPadding": 3, "titlePadding": 3, "labelOffset": 5}}}},
                {"transform": [{"filter": "datum.e !== 'Hein 2015'"}],
                 "mark": {"type": "errorbar", "extent": "stdev", "color": "#5c5c5c", "ticks": {"size": 7}},
                 "encoding": {
                   "xOffset": {"field": "e", "type": "nominal", "sort": ["4 µg", "12 k", "Hein 2015"], "scale": {"domain": ["4 µg", "12 k", "Hein 2015"], "paddingInner": 0, "paddingOuter": 0}},
                   "y": {"field": "v", "type": "quantitative", "title": "Stoichiometry"}}},
                {"mark": {"type": "circle", "color": "#000000", "size": 7, "opacity": 1},
                 "encoding": {
                   "xOffset": {"field": "r", "type": "nominal", "scale": {"type": "point", "padding": 0.5, "domain": ["A1","A2","A3","A4","A5","A6","A7","B1","B2","B3","B4","B5","B6","B7","C1","C2","C3","C4","C5","C6","C7"]}},
                   "y": {"field": "v", "type": "quantitative", "title": "Stoichiometry"}}}
              ],
              "resolve": {"scale": {"xOffset": "independent"}}
            }
          ]
        }
      ]
    }
  ]
}
